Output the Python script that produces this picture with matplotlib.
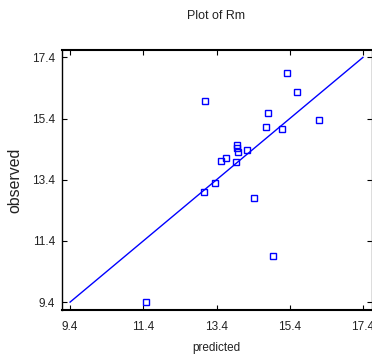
import matplotlib
matplotlib.use("Agg")
import matplotlib.pyplot as plt

plt.rcParams['font.family'] = ['Liberation Sans', 'DejaVu Sans']

title = "Plot of Rm"
xlabel = "predicted"
ylabel = "observed"
ticks = [9.4, 11.4, 13.4, 15.4, 17.4]
tick_labels = ["9.4", "11.4", "13.4", "15.4", "17.4"]

predicted = [15.33, 15.61, 13.08, 14.80, 16.20, 14.76, 15.19, 13.96, 13.96, 14.00,
             14.24, 13.67, 13.51, 13.93, 13.36, 13.05, 14.42, 14.94, 11.47]
observed = [16.88, 16.28, 15.97, 15.57, 15.36, 15.11, 15.06, 14.53, 14.44, 14.31,
            14.36, 14.10, 14.00, 13.99, 13.29, 12.99, 12.79, 10.91, 9.39]
line_x = [9.4, 17.4]
line_y = [9.4, 17.4]

fig = plt.figure(figsize=(3.72, 3.56), dpi=100)
ax = fig.add_axes([61.5/372, 1 - 309.5/356, 310/372, 259.5/356])

ax.plot(line_x, line_y, color=(0, 0, 1), lw=1.0)
ax.plot(predicted, observed, ls='none', marker='s', markersize=4.0,
        markerfacecolor='none', markeredgecolor=(0, 0, 1), markeredgewidth=1.0)

ax.set_xlim(9.166, 17.634)
ax.set_ylim(9.158, 17.642)
ax.set_xticks(ticks)
ax.set_xticklabels(tick_labels)
ax.set_yticks(ticks)
ax.set_yticklabels(tick_labels)

ax.tick_params(direction='in', length=3.6, width=0.8, top=True, right=True,
               labelsize=8.5, labelcolor='#222222', color='black')
ax.tick_params(axis='x', pad=8.0)
ax.tick_params(axis='y', pad=4.5)

for side in ['top', 'bottom']:
    ax.spines[side].set_linewidth(1.5)
ax.spines['left'].set_linewidth(1.0)
ax.spines['right'].set_linewidth(1.0)
ax.spines['right'].set_color('#555555')

fig.text(216.5/372, 1 - 16/356, title, ha='center', va='center', fontsize=8.9, color='#222222')
fig.text(216.5/372, 1 - 348/356, xlabel, ha='center', va='center', fontsize=8.5, color='#222222')
fig.text(15/372, 1 - 180/356, ylabel, ha='center', va='center', rotation=90, fontsize=11.4, color='#222222')

fig.savefig("out.png", dpi=100)
